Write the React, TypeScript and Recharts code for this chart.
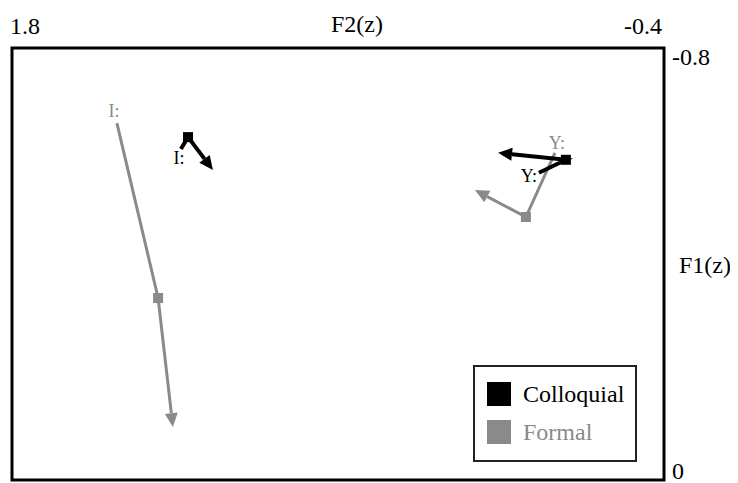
import { ScatterChart, Scatter, XAxis, YAxis, ReferenceArea, Legend } from 'recharts';

// vowel trajectories: start (20%), mid (50%), end (80%) in z-scored formants
const colloquialI = [
  { f2: 1.23, f1: -0.613 },
  { f2: 1.206, f1: -0.635 },
  { f2: 1.122, f1: -0.574 },
];
const formalI = [
  { f2: 1.446, f1: -0.661 },
  { f2: 1.307, f1: -0.337 },
  { f2: 1.257, f1: -0.098 },
];
const colloquialY = [
  { f2: 0.022, f1: -0.569 },
  { f2: -0.069, f1: -0.593 },
  { f2: 0.16, f1: -0.606 },
];
const formalY = [
  { f2: -0.032, f1: -0.606 },
  { f2: 0.066, f1: -0.487 },
  { f2: 0.238, f1: -0.537 },
];

const f2Ticks = [1.8, -0.4];
const f1Ticks = [-0.8, 0];
const registers = ['Colloquial', 'Formal'];

const FONT = '"Liberation Serif", "Times New Roman", serif';
const BLACK = '#000000';
const GREY = '#8a8a8a';

// polyline through the points with an arrowhead at the last one
const track = (color: string, width: number) => (props: any) => {
  const pts = props.points || [];
  if (pts.length < 2) return <g />;
  const a = pts[pts.length - 2];
  const b = pts[pts.length - 1];
  const dx = b.x - a.x;
  const dy = b.y - a.y;
  const len = Math.sqrt(dx * dx + dy * dy) || 1;
  const ux = dx / len;
  const uy = dy / len;
  const head = 14;
  const half = 6.5;
  const bx = b.x - ux * head;
  const by = b.y - uy * head;
  const linePts = pts.slice(0, -1).map((p: any) => `${p.x},${p.y}`).concat(`${bx},${by}`).join(' ');
  const tri = `${b.x},${b.y} ${bx - uy * half},${by + ux * half} ${bx + uy * half},${by - ux * half}`;
  return (
    <g>
      <polyline points={linePts} fill="none" stroke={color} strokeWidth={width} />
      <polygon points={tri} fill={color} stroke="none" />
    </g>
  );
};

// square at the mid point, vowel label near the start point
const marker = (color: string, label: string, dx: number, dy: number) => (props: any) => {
  const { cx, cy, index } = props;
  if (index === 1) {
    return <rect x={cx - 5} y={cy - 5} width={10} height={10} fill={color} />;
  }
  if (index === 0) {
    return (
      <text x={cx + dx} y={cy + dy} textAnchor="middle" fontFamily={FONT} fontSize={18} fill={color}>
        {label}
      </text>
    );
  }
  return <g />;
};

const XTick = (props: any) => {
  const { x, payload } = props;
  const first = payload.value === f2Ticks[0];
  return (
    <text x={x - 2} y={26} textAnchor={first ? 'start' : 'end'} fontFamily={FONT} fontSize={24} fill="#000">
      {payload.value}
    </text>
  );
};

const YTick = (props: any) => {
  const { y, payload } = props;
  const top = payload.value === f1Ticks[0];
  return (
    <text x={664} y={top ? y + 17 : y - 1} textAnchor="start" fontFamily={FONT} fontSize={24} fill="#000">
      {payload.value}
    </text>
  );
};

const LegendBox = () => (
  <div
    style={{
      width: 160,
      height: 93,
      border: '2px solid #222',
      background: '#fff',
      fontFamily: FONT,
      fontSize: 24,
      position: 'relative',
    }}
  >
    {registers.map((r, i) => (
      <div key={r} style={{ position: 'absolute', left: 12, top: 15 + i * 38, display: 'flex', alignItems: 'center' }}>
        <div style={{ width: 24, height: 24, background: i === 0 ? BLACK : GREY }} />
        <span style={{ marginLeft: 12, color: i === 0 ? BLACK : GREY, lineHeight: '24px' }}>{r}</span>
      </div>
    ))}
  </div>
);

export default function App() {
  return (
    <ScatterChart width={730} height={475} margin={{ top: 10, right: 8, left: 4, bottom: 3 }}>
      <XAxis
        type="number"
        dataKey="f2"
        domain={[-0.4, 1.8]}
        reversed
        orientation="top"
        ticks={f2Ticks}
        interval={0}
        tick={<XTick />}
        tickLine={false}
        axisLine={false}
        height={30}
        allowDataOverflow
        label={{
          content: (p: any) => (
            <text x={p.viewBox.x + p.viewBox.width / 2 + 19} y={24} textAnchor="middle" fontFamily={FONT} fontSize={24} fill="#000">
              F2(z)
            </text>
          ),
        }}
      />
      <YAxis
        type="number"
        dataKey="f1"
        domain={[-0.8, 0]}
        reversed
        orientation="right"
        ticks={f1Ticks}
        interval={0}
        tick={<YTick />}
        tickLine={false}
        axisLine={false}
        width={66}
        allowDataOverflow
        label={{
          content: (p: any) => (
            <text x={697} y={p.viewBox.y + p.viewBox.height / 2 + 9} textAnchor="middle" fontFamily={FONT} fontSize={24} fill="#000">
              F1(z)
            </text>
          ),
        }}
      />
      <ReferenceArea x1={1.8} x2={-0.4} y1={-0.8} y2={0} fill="none" stroke="#000" strokeWidth={3} />
      <Scatter name="Formal I" data={formalI} fill={GREY} line={track(GREY, 3)} shape={marker(GREY, 'I:', -3, -6)} isAnimationActive={false} />
      <Scatter name="Formal Y" data={formalY} fill={GREY} line={track(GREY, 3)} shape={marker(GREY, 'Y:', 2, -4)} isAnimationActive={false} />
      <Scatter name="Colloquial I" data={colloquialI} fill={BLACK} line={track(BLACK, 4)} shape={marker(BLACK, 'I:', -2, 15)} isAnimationActive={false} />
      <Scatter name="Colloquial Y" data={colloquialY} fill={BLACK} line={track(BLACK, 4)} shape={marker(BLACK, 'Y:', -10, 9)} isAnimationActive={false} />
      <Legend
        layout="vertical"
        align="center"
        verticalAlign="middle"
        content={<LegendBox />}
        wrapperStyle={{ left: 465, top: 357, width: 164 }}
      />
    </ScatterChart>
  );
}
